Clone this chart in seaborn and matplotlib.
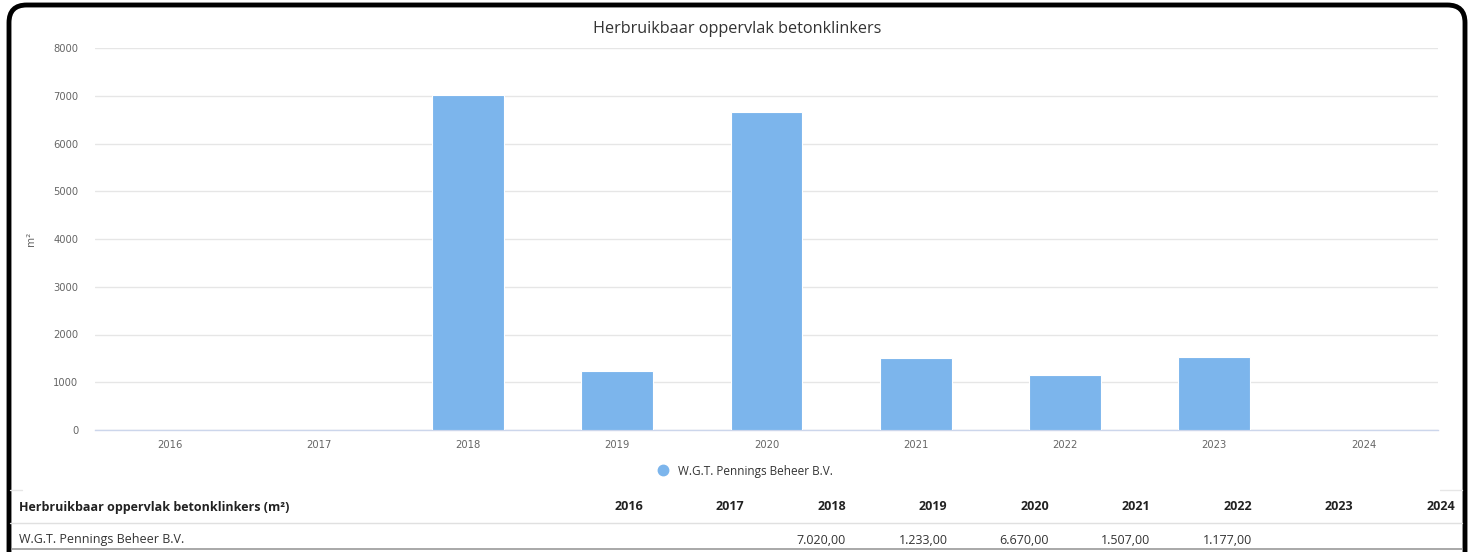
import matplotlib
matplotlib.use("Agg")
import matplotlib.pyplot as plt
import numpy as np
import pandas as pd
import seaborn as sns
from matplotlib.lines import Line2D
from matplotlib.patches import FancyBboxPatch

# data
years = ["2016", "2017", "2018", "2019", "2020", "2021", "2022", "2023", "2024"]
surface = [np.nan, np.nan, 7020, 1233, 6670, 1507, 1160, 1520, np.nan]
company = "W.G.T. Pennings Beheer B.V."
table_values = ["", "", "7.020,00", "1.233,00", "6.670,00", "1.507,00", "1.177,00", "", ""]
yticks = [0, 1000, 2000, 3000, 4000, 5000, 6000, 7000, 8000]

BAR = "#7cb5ec"
W, H = 1471, 552

sns.set_theme(style="white")
plt.rcParams["font.family"] = ["Open Sans", "DejaVu Sans"]

df = pd.DataFrame({"year": years, "m2": surface})

fig = plt.figure(figsize=(W / 100, H / 100), dpi=100)
ax = fig.add_axes([95 / W, 1 - 430 / H, (1438 - 95) / W, (430 - 48) / H])

sns.barplot(data=df, x="year", y="m2", order=years, color=BAR, saturation=1,
            width=0.48, edgecolor="white", linewidth=0.8, ax=ax, zorder=3)

ax.set_xlim(-0.5, len(years) - 0.5)
ax.set_ylim(0, 8000)
ax.set_yticks(yticks)
ax.set_yticklabels([str(t) for t in yticks])
ax.grid(axis="y", color="#e6e6e6", linewidth=1, zorder=0)
ax.set_axisbelow(True)
for side in ["left", "right", "top"]:
    ax.spines[side].set_visible(False)
ax.spines["bottom"].set_color("#ccd6eb")
ax.spines["bottom"].set_linewidth(1)
ax.tick_params(axis="both", length=0, labelcolor="#666666")
for lbl in ax.get_xticklabels() + ax.get_yticklabels():
    lbl.set_family("DejaVu Sans")
    lbl.set_fontsize(7.2)
ax.tick_params(axis="y", pad=12)
ax.tick_params(axis="x", pad=7)
ax.set_xlabel("")
ax.set_ylabel("m²", fontsize=7.5, color="#666666", family="DejaVu Sans")
ax.yaxis.set_label_coords(-0.044, 0.5)

fig.text(737 / W, 1 - 29 / H, "Herbruikbaar oppervlak betonklinkers",
         ha="center", va="center", fontsize=11.7, color="#333333")

# legend
handle = Line2D([], [], marker="o", linestyle="", markersize=7.5,
                markerfacecolor=BAR, markeredgecolor=BAR)
fig.legend([handle], [company], loc="center", bbox_to_anchor=(742 / W, 1 - 471 / H),
           frameon=False, fontsize=8.5, handletextpad=0.2, labelcolor="#333333")

# data table below the chart
y_head = 1 - 507 / H
y_row = 1 - 540 / H
fig.text(19 / W, y_head, "Herbruikbaar oppervlak betonklinkers (m²)", ha="left",
         va="center", fontsize=9, fontweight="bold", color="#222222")
fig.text(19 / W, y_row, company, ha="left", va="center", fontsize=9, color="#333333")
for i, (yr, val) in enumerate(zip(years, table_values)):
    xr = (643 + i * 101.5) / W
    fig.text(xr, y_head, yr, ha="right", va="center", fontsize=9,
             fontweight="bold", color="#222222")
    if val:
        fig.text(xr, y_row, val, ha="right", va="center", fontsize=9, color="#333333")

fig.add_artist(Line2D([10 / W, 1462 / W], [1 - 523 / H] * 2, color="#e0e0e0", linewidth=1))
fig.add_artist(Line2D([10 / W, 22 / W], [1 - 490 / H] * 2, color="#e6e6e6", linewidth=1))
fig.add_artist(Line2D([1440 / W, 1462 / W], [1 - 490 / H] * 2, color="#e6e6e6", linewidth=1))
fig.add_artist(Line2D([12 / W, 1462 / W], [1 - 549 / H] * 2, color="#9a9a9a", linewidth=1.2))

# rounded black frame
frame = FancyBboxPatch((9 / W, -20 / H), (1465 - 9) / W, (20 + 547) / H,
                       boxstyle="round,pad=0,rounding_size=0.012",
                       transform=fig.transFigure, fill=False,
                       edgecolor="black", linewidth=3.5, mutation_aspect=W / H)
fig.add_artist(frame)

fig.savefig("out.png", dpi=100)
